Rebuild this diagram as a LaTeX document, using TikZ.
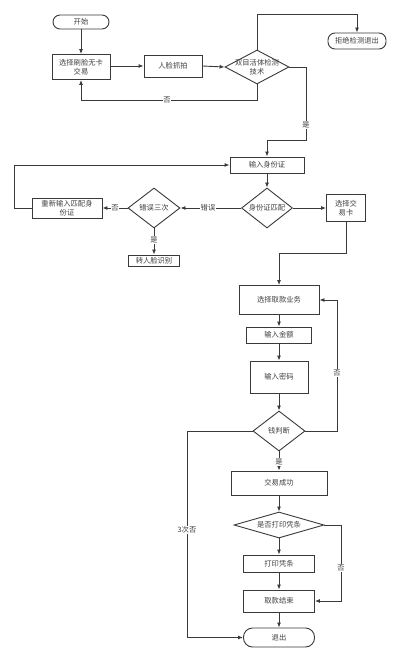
\documentclass[tikz,border=0pt]{standalone}
\usepackage{fontspec}
\newfontfamily\cjk{Noto Sans CJK SC}
\usetikzlibrary{shapes.geometric,arrows.meta}
\definecolor{ln}{HTML}{3A3A3A}
\definecolor{tx}{HTML}{404040}
\tikzset{
  x=1pt,y=-1pt,
  base/.style={font=\cjk\fontsize{7.3}{9}\selectfont,text=tx,inner sep=0pt,align=center},
  box/.style={base,draw=ln,line width=0.9pt,rectangle},
  term/.style={base,draw=ln,line width=0.9pt,rectangle,rounded corners=7pt},
  dia/.style={draw=ln,line width=0.9pt,diamond,inner sep=0pt},
  arr/.style={draw=ln,line width=0.9pt,-{Latex[length=5pt,width=4pt]}},
  ln/.style={draw=ln,line width=0.9pt},
  lbl/.style={base,fill=white,inner sep=0.6pt},
}
\begin{document}
\begin{tikzpicture}
\useasboundingbox[fill=white] (0,0) rectangle (400,661);
% nodes
\node[term,minimum width=56,minimum height=14] (start) at (81,22) {开始};
\node[box,minimum width=58,minimum height=25] (s1) at (81,67) {选择刷脸无卡\\交易};
\node[box,minimum width=58,minimum height=22] (cap) at (173,66) {人脸抓拍};
\node[dia,minimum width=64,minimum height=34] (d1) at (257,67) {};
\node[base] at (d1) {双目活体检测\\技术};
\node[term,minimum width=58,minimum height=16] (reject) at (357,41) {拒绝检测退出};
\node[box,minimum width=74,minimum height=16] (id) at (267,165) {输入身份证};
\node[dia,minimum width=51,minimum height=40] (m1) at (267,208) {};
\node[base] at (m1) {身份证匹配};
\node[box,minimum width=39,minimum height=27] (card) at (346,208) {选择交\\易卡};
\node[dia,minimum width=52,minimum height=40] (d3) at (154,208) {};
\node[base] at (d3) {错误三次};
\node[box,minimum width=70,minimum height=20] (re) at (67,208) {重新输入匹配身\\份证};
\node[box,minimum width=51,minimum height=11] (face) at (154,260.5) {转人脸识别};
\node[box,minimum width=80,minimum height=29] (wd) at (279,300) {选择取款业务};
\node[box,minimum width=65,minimum height=16] (amt) at (279,335) {输入金额};
\node[box,minimum width=58,minimum height=32] (pwd) at (279,377) {输入密码};
\node[dia,minimum width=52,minimum height=40] (d4) at (279,431) {};
\node[base] at (d4) {钱判断};
\node[box,minimum width=96,minimum height=24] (ok) at (279,483) {交易成功};
\node[dia,minimum width=90,minimum height=26] (d5) at (279,525) {};
\node[base] at (d5) {是否打印凭条};
\node[box,minimum width=71,minimum height=17] (pr) at (279,563.5) {打印凭条};
\node[box,minimum width=71,minimum height=22] (fin) at (279,601) {取款结束};
\node[term,minimum width=71,minimum height=19,rounded corners=9pt] (exit) at (279,637.5) {退出};
% connectors
\draw[arr] (start) -- (s1);
\draw[arr] (s1.east |- cap) -- (cap.west);
\draw[arr] (cap.east) -- (d1.west);
\draw[arr] (d1.north) -- (257,14) -| (reject.north);
\draw[arr] (d1.south) -- (257,100) -| (s1.south);
\node[lbl] (l1) at (167,100) {否};
\draw[arr] (d1.east) -- (306,67) -- (306,140) -| (id.north);
\node[lbl] (l2) at (306,125) {是};
\draw[arr] (id) -- (m1);
\draw[arr] (m1.east) -- (card.west);
\draw[arr] (m1.west) -- (d3.east);
\node[lbl] (l3) at (208,208) {错误};
\draw[arr] (d3.west) -- (re.east);
\node[lbl] (l4) at (115,208) {否};
\draw[arr] (d3.south) -- (face.north);
\node[lbl] (l5) at (154,240) {是};
\draw[arr] (re.west) -- (14,208) |- (id.west);
\draw[arr] (card.south) -- (346,253) -| (wd.north);
\draw[arr] (wd) -- (amt);
\draw[arr] (amt) -- (pwd);
\draw[arr] (pwd) -- (d4);
\draw[arr] (d4.east) -- (337,431) |- (wd.east);
\node[lbl] (l6) at (337,373) {否};
\draw[arr] (d4.south) -- (ok.north);
\node[lbl] (l7) at (279,462) {是};
\draw[arr] (d4.west) -- (187,431) |- (exit.west);
\node[lbl] (l8) at (187,530) {3次否};
\draw[arr] (ok) -- (d5);
\draw[arr] (d5.south) -- (pr.north);
\draw[arr] (pr) -- (fin);
\draw[arr] (fin) -- (exit);
\draw[arr] (d5.east) -- (341,525) |- (fin.east);
\node[lbl] (l9) at (341,568) {否};
\end{tikzpicture}
\end{document}
